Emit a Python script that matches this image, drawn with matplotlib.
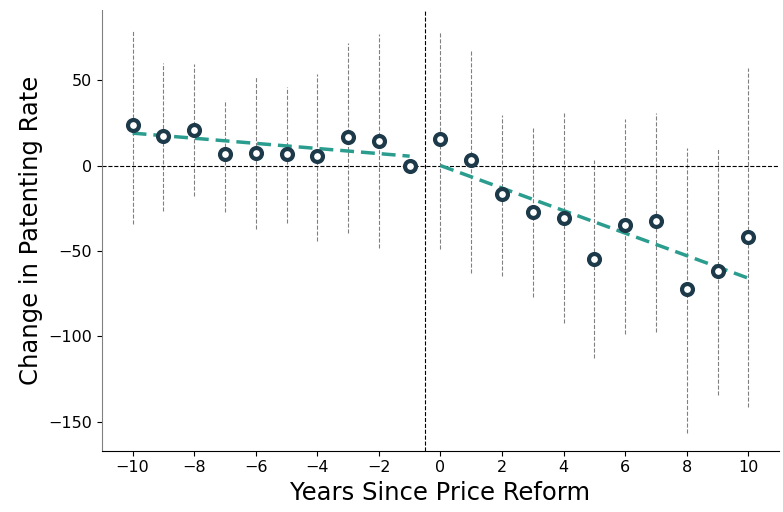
import numpy as np
import matplotlib.pyplot as plt

# event-study estimates, years relative to the price reform
years = np.arange(-10, 11)
coef = [23.5, 17.5, 21, 6.5, 7.5, 7, 5.5, 17, 14.5, 0,
        15.5, 3, -16.5, -27, -30.5, -54.5, -35, -32.5, -72.5, -61.5, -42]
ci_low = [-34, -26.5, -18, -27.5, -37, -33.5, -44, -39.5, -48.5, 0,
          -49, -63, -65, -77, -92.5, -113, -98.5, -97.5, -156.5, -134.5, -141.5]
ci_high = [79.5, 60, 59.5, 38.5, 52, 46, 53.5, 72, 77, 0,
           78.5, 67, 29.5, 22, 30.5, 3, 27.5, 31, 10.5, 10, 57]

# linear trends before and after the reform
pre_slope, pre_int = -1.5, 4.0
post_slope, post_int = -6.6, 0.0

coef = np.array(coef)
ci_low = np.array(ci_low)
ci_high = np.array(ci_high)

fig, ax = plt.subplots(figsize=(7.83, 5.12), dpi=100)

# confidence intervals as thin dashed lines
for x, lo, hi in zip(years, ci_low, ci_high):
    if lo == hi:
        continue
    ax.plot([x, x], [lo, hi], color="grey", linestyle="--", linewidth=0.8, zorder=1)

ax.axhline(0, color="black", linestyle="--", linewidth=0.8, zorder=1)
ax.axvline(-0.5, color="black", linestyle="--", linewidth=0.8, zorder=1)

pre_x = np.array([-10, -1])
post_x = np.array([0, 10])
ax.plot(pre_x, pre_int + pre_slope * pre_x, color="#2a9d8f", linestyle="--",
        linewidth=2.5, dashes=(4, 2), zorder=2)
ax.plot(post_x, post_int + post_slope * post_x, color="#2a9d8f", linestyle="--",
        linewidth=2.5, dashes=(4, 2), zorder=2)

ax.scatter(years, coef, s=62, facecolor="white", edgecolor="#1d3a4a",
           linewidth=3, zorder=3)

ax.set_xlim(-11, 11)
ax.set_ylim(-167, 91)
ax.set_xticks(np.arange(-10, 11, 2))
ax.set_yticks([-150, -100, -50, 0, 50])
ax.set_xlabel("Years Since Price Reform", fontsize=17.5)
ax.set_ylabel("Change in Patenting Rate", fontsize=17.5)
ax.tick_params(labelsize=11.5)

ax.spines["top"].set_visible(False)
ax.spines["right"].set_visible(False)
ax.spines["left"].set_color("grey")

plt.subplots_adjust(left=0.13, right=0.995, top=0.98, bottom=0.12)
plt.savefig("out.png")
